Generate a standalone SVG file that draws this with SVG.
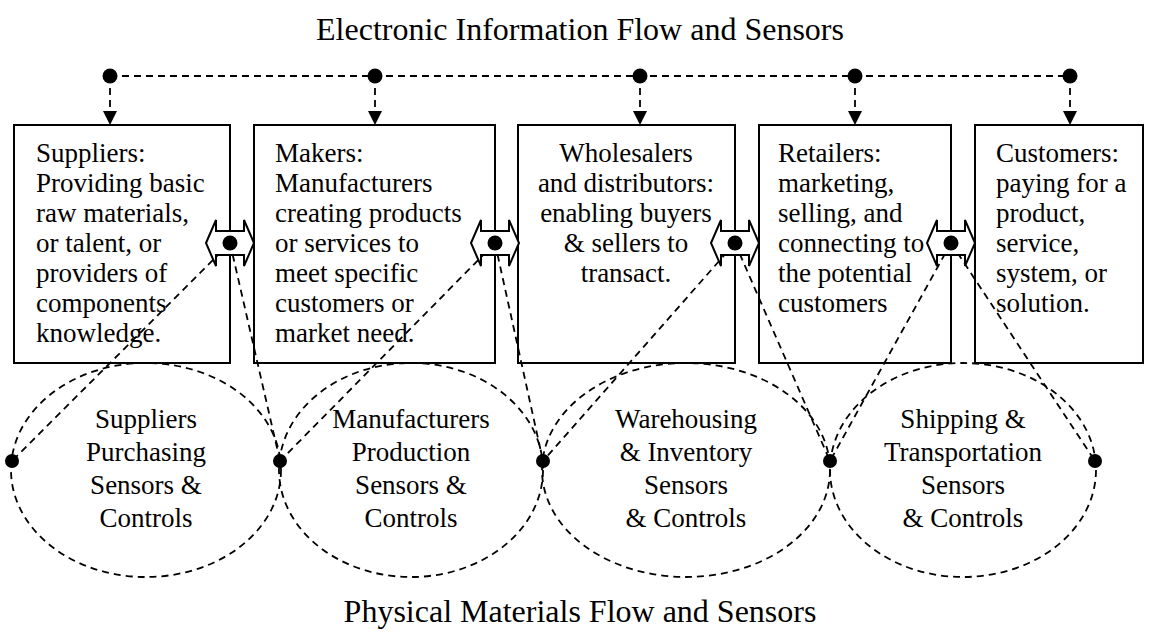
<svg xmlns="http://www.w3.org/2000/svg" width="1159" height="638" viewBox="0 0 1159 638">
<style>
text { font-family: "Liberation Serif", "Times New Roman", serif; font-size: 27px; fill: #000; }
.title { font-size: 32px; text-anchor: middle; }
.c { text-anchor: middle; }
.box { fill: #fff; stroke: #000; stroke-width: 2; }
.dash { fill: none; stroke: #000; stroke-width: 1.8; stroke-dasharray: 7 5; }
.ell { fill: none; stroke: #000; stroke-width: 1.8; stroke-dasharray: 7 5; }
.dot { fill: #000; }
.dbl { fill: #fff; stroke: #000; stroke-width: 2; stroke-linejoin: miter; }
</style>
<defs>
<marker id="ah" viewBox="0 0 14 14" refX="13" refY="7" markerWidth="14" markerHeight="14" markerUnits="userSpaceOnUse" orient="auto">
<path d="M0,0 L14,7 L0,14 Z" fill="#000"/>
</marker>
<path id="dblarrow" d="M-24,0 L-14,-23 L-14,-12 L14,-12 L14,-23 L24,0 L14,23 L14,12 L-14,12 L-14,23 Z"/>
</defs>

<text class="title" x="580" y="40">Electronic Information Flow and Sensors</text>
<text class="title" x="580" y="622">Physical Materials Flow and Sensors</text>

<g id="node-suppliers">
<rect class="box" x="14" y="125" width="216" height="238"/>
<text x="36" y="162">Suppliers:</text>
<text x="36" y="192">Providing basic</text>
<text x="36" y="222">raw materials,</text>
<text x="36" y="252">or talent, or</text>
<text x="36" y="282">providers of</text>
<text x="36" y="312">components</text>
<text x="36" y="342">knowledge.</text>
</g>
<g id="node-makers">
<rect class="box" x="254" y="125" width="241" height="238"/>
<text x="275" y="162">Makers:</text>
<text x="275" y="192">Manufacturers</text>
<text x="275" y="222">creating products</text>
<text x="275" y="252">or services to</text>
<text x="275" y="282">meet specific</text>
<text x="275" y="312">customers or</text>
<text x="275" y="342">market need.</text>
</g>
<g id="node-wholesalers">
<rect class="box" x="518" y="125" width="217" height="238"/>
<text class="c" x="626" y="162">Wholesalers</text>
<text class="c" x="626" y="192">and distributors:</text>
<text class="c" x="626" y="222">enabling buyers</text>
<text class="c" x="626" y="252">&amp; sellers to</text>
<text class="c" x="626" y="282">transact.</text>
</g>
<g id="node-retailers">
<rect class="box" x="759" y="125" width="192" height="238"/>
<text x="778" y="162">Retailers:</text>
<text x="778" y="192">marketing,</text>
<text x="778" y="222">selling, and</text>
<text x="778" y="252">connecting to</text>
<text x="778" y="282">the potential</text>
<text x="778" y="312">customers</text>
</g>
<g id="node-customers">
<rect class="box" x="975" y="125" width="168" height="238"/>
<text x="996" y="162">Customers:</text>
<text x="996" y="192">paying for a</text>
<text x="996" y="222">product,</text>
<text x="996" y="252">service,</text>
<text x="996" y="282">system, or</text>
<text x="996" y="312">solution.</text>
</g>

<g id="node-ell-suppliers">
<ellipse class="ell" cx="146" cy="470" rx="135" ry="107"/>
<text class="c" x="146" y="428">Suppliers</text>
<text class="c" x="146" y="461">Purchasing</text>
<text class="c" x="146" y="494">Sensors &amp;</text>
<text class="c" x="146" y="527">Controls</text>
</g>
<g id="node-ell-manufacturers">
<ellipse class="ell" cx="411" cy="470" rx="132" ry="107"/>
<text class="c" x="411" y="428">Manufacturers</text>
<text class="c" x="411" y="461">Production</text>
<text class="c" x="411" y="494">Sensors &amp;</text>
<text class="c" x="411" y="527">Controls</text>
</g>
<g id="node-ell-warehousing">
<ellipse class="ell" cx="686" cy="470" rx="144" ry="107"/>
<text class="c" x="686" y="428">Warehousing</text>
<text class="c" x="686" y="461">&amp; Inventory</text>
<text class="c" x="686" y="494">Sensors</text>
<text class="c" x="686" y="527">&amp; Controls</text>
</g>
<g id="node-ell-shipping">
<ellipse class="ell" cx="963" cy="470" rx="133" ry="107"/>
<text class="c" x="963" y="428">Shipping &amp;</text>
<text class="c" x="963" y="461">Transportation</text>
<text class="c" x="963" y="494">Sensors</text>
<text class="c" x="963" y="527">&amp; Controls</text>
</g>

<g id="connectors">
<line class="dash" x1="110" y1="76" x2="1070" y2="76"/>
<line class="dash" x1="110" y1="76" x2="110" y2="124" marker-end="url(#ah)"/>
<line class="dash" x1="375" y1="76" x2="375" y2="124" marker-end="url(#ah)"/>
<line class="dash" x1="640" y1="76" x2="640" y2="124" marker-end="url(#ah)"/>
<line class="dash" x1="855" y1="76" x2="855" y2="124" marker-end="url(#ah)"/>
<line class="dash" x1="1070" y1="76" x2="1070" y2="124" marker-end="url(#ah)"/>
<circle class="dot" cx="110" cy="76" r="7.5"/>
<circle class="dot" cx="375" cy="76" r="7.5"/>
<circle class="dot" cx="640" cy="76" r="7.5"/>
<circle class="dot" cx="855" cy="76" r="7.5"/>
<circle class="dot" cx="1070" cy="76" r="7.5"/>

<line class="dash" x1="230" y1="243" x2="12" y2="461"/>
<line class="dash" x1="230" y1="243" x2="280" y2="461"/>
<line class="dash" x1="495" y1="243" x2="280" y2="461"/>
<line class="dash" x1="495" y1="243" x2="543" y2="461"/>
<line class="dash" x1="735" y1="243" x2="543" y2="461"/>
<line class="dash" x1="735" y1="243" x2="830" y2="461"/>
<line class="dash" x1="951" y1="243" x2="830" y2="461"/>
<line class="dash" x1="951" y1="243" x2="1095" y2="461"/>

<use href="#dblarrow" class="dbl" transform="translate(230,243)"/>
<use href="#dblarrow" class="dbl" transform="translate(495,243)"/>
<use href="#dblarrow" class="dbl" transform="translate(735,243)"/>
<use href="#dblarrow" class="dbl" transform="translate(951,243)"/>
<circle class="dot" cx="230" cy="243" r="7.5"/>
<circle class="dot" cx="495" cy="243" r="7.5"/>
<circle class="dot" cx="735" cy="243" r="7.5"/>
<circle class="dot" cx="951" cy="243" r="7.5"/>

<circle class="dot" cx="12" cy="461" r="7"/>
<circle class="dot" cx="280" cy="461" r="7"/>
<circle class="dot" cx="543" cy="461" r="7"/>
<circle class="dot" cx="830" cy="461" r="7"/>
<circle class="dot" cx="1095" cy="461" r="7"/>
</g>
</svg>
